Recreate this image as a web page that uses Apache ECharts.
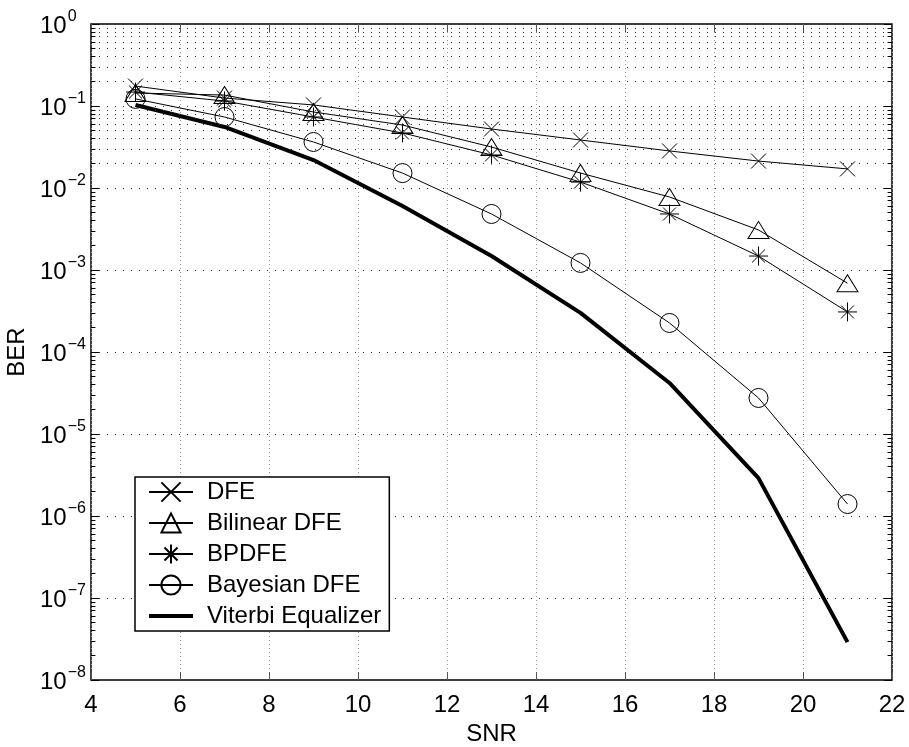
<html>
  <head>
    <meta charset="utf-8" />
    <title>BER vs SNR</title>
    <script type="text/javascript" src="https://cdn.jsdelivr.net/npm/echarts@6/dist/echarts.min.js"></script>
    <style>
      body { margin: 0; background: #fff; }
    </style>
  </head>
  <body>
    <div id="main" style="width:909px;height:747px;"></div>
    <script type="text/javascript">
      var snr = [5, 7, 9, 11, 13, 15, 17, 19, 21];
      var dfe = [0.175, 0.125, 0.103, 0.0734, 0.0524, 0.0385, 0.0283, 0.0213, 0.0171];
      var bilinear = [0.144, 0.136, 0.0845, 0.0586, 0.0316, 0.0152, 0.00777, 0.00308, 0.00069];
      var bpdfe = [0.148, 0.115, 0.0734, 0.0469, 0.0253, 0.0118, 0.00482, 0.00148, 0.000308];
      var bayesian = [0.122, 0.0734, 0.0364, 0.0152, 0.00482, 0.00122, 0.000226, 0.0000275, 0.0000014];
      var viterbi = [0.103, 0.0555, 0.0219, 0.00603, 0.00148, 0.0003, 0.0000419, 0.0000029, 0.000000029];
      var seriesNames = ['DFE', 'Bilinear DFE', 'BPDFE', 'Bayesian DFE', 'Viterbi Equalizer'];

      // minor grid values 2..9 x 10^k
      var minorVals = [];
      for (var k = -8; k < 0; k++) {
        for (var m = 2; m <= 9; m++) {
          minorVals.push(m * Math.pow(10, k));
        }
      }

      function pairs(ys) {
        return snr.map(function (x, i) { return [x, ys[i]]; });
      }

      var xMark = 'path://M0,0L10,10M10,0L0,10';
      var starMark = 'path://M5,0L5,10M0,5L10,5M1.6,1.6L8.4,8.4M8.4,1.6L1.6,8.4';
      var triMark = 'path://M5,0L10,9L0,9Z';

      var thin = { color: '#000', width: 1 };
      var hollow = { color: 'rgba(0,0,0,0)', borderColor: '#000', borderWidth: 1 };
      var font = 'Liberation Sans, Arial, sans-serif';

      var myChart = echarts.init(document.getElementById('main'));

      var minorGridLines = minorVals.map(function (v) { return { yAxis: v }; });
      var minorTicks = [];
      minorVals.forEach(function (v) {
        minorTicks.push([{ coord: [4, v], lineStyle: { color: '#000', type: 'solid', width: 1 } }, { coord: [4.1, v] }]);
        minorTicks.push([{ coord: [21.9, v], lineStyle: { color: '#000', type: 'solid', width: 1 } }, { coord: [22, v] }]);
      });

      var labelFmt = function (v) {
        var e = Math.round(Math.log10(v));
        return '{a|10}{b|' + (e === 0 ? '0' : '\u2212' + (-e)) + '}';
      };

      var legendData = seriesNames.map(function (n) {
        if (n === 'Viterbi Equalizer') {
          return { name: n, itemStyle: { opacity: 0 }, lineStyle: { width: 4, color: '#000', opacity: 1 } };
        }
        return { name: n };
      });

      var option = {
        animation: false,
        textStyle: { fontFamily: font },
        grid: {
          left: 91, right: 17, top: 24, bottom: 67,
          containLabel: false,
          outerBoundsMode: 'none',
          show: true, borderColor: '#000', borderWidth: 1.5
        },
        legend: {
          data: legendData,
          orient: 'vertical',
          left: 135,
          top: 477,
          backgroundColor: '#fff',
          borderColor: '#000',
          borderWidth: 1.5,
          padding: [3, 8, 3, 12],
          itemWidth: 44,
          itemHeight: 24,
          itemGap: 7,
          textStyle: { fontSize: 24, color: '#000', fontFamily: font, padding: [0, 0, 0, 9] }
        },
        xAxis: [
          {
            type: 'value', min: 4, max: 22, interval: 2,
            name: 'SNR', nameLocation: 'middle', nameGap: 42,
            nameTextStyle: { fontSize: 24, color: '#000' },
            axisLine: { show: false },
            axisTick: { inside: true, length: 8, lineStyle: { color: '#555' } },
            axisLabel: { fontSize: 24, color: '#000', margin: 13 },
            splitLine: { show: true, lineStyle: { color: '#999', type: [1, 3] } }
          },
          {
            type: 'value', min: 4, max: 22, interval: 2, position: 'top',
            axisLine: { show: false },
            axisTick: { show: true, inside: true, length: 8, lineStyle: { color: '#555' } },
            axisLabel: { show: false },
            splitLine: { show: false }
          }
        ],
        yAxis: [
          {
            type: 'log', logBase: 10, min: 1e-8, max: 1, splitNumber: 8,
            name: 'BER', nameLocation: 'middle', nameGap: 47, nameRotate: 90,
            nameTextStyle: { fontSize: 24, color: '#000' },
            axisLine: { show: false },
            axisTick: { inside: true, length: 8, lineStyle: { color: '#000' } },
            axisLabel: {
              margin: 51,
              align: 'left',
              formatter: labelFmt,
              rich: {
                a: { fontSize: 24, color: '#000', padding: [4, 0, 0, 0] },
                b: { fontSize: 16, color: '#000', padding: [0, 0, 14, 1] }
              }
            },
            splitLine: { show: true, lineStyle: { color: '#333', type: [1, 7] } }
          },
          {
            type: 'log', logBase: 10, min: 1e-8, max: 1, splitNumber: 8, position: 'right',
            axisLine: { show: false },
            axisTick: { inside: true, length: 8, lineStyle: { color: '#000' } },
            axisLabel: { show: false },
            splitLine: { show: false }
          }
        ],
        series: [
          {
            name: 'grid',
            type: 'line',
            data: [],
            silent: true,
            markLine: {
              silent: true,
              symbol: 'none',
              label: { show: false },
              animation: false,
              lineStyle: { color: '#333', type: [1, 7], width: 1 },
              data: minorGridLines.concat(minorTicks)
            }
          },
          {
            name: 'DFE', type: 'line', data: pairs(dfe),
            symbol: xMark, symbolSize: 15, symbolKeepAspect: true,
            lineStyle: thin, itemStyle: hollow, z: 3
          },
          {
            name: 'Bilinear DFE', type: 'line', data: pairs(bilinear),
            symbol: triMark, symbolSize: [21, 19], symbolKeepAspect: true,
            lineStyle: thin, itemStyle: hollow, z: 3
          },
          {
            name: 'BPDFE', type: 'line', data: pairs(bpdfe),
            symbol: starMark, symbolSize: 19, symbolKeepAspect: true,
            lineStyle: thin, itemStyle: hollow, z: 3
          },
          {
            name: 'Bayesian DFE', type: 'line', data: pairs(bayesian),
            symbol: 'circle', symbolSize: 19,
            lineStyle: thin, itemStyle: hollow, z: 3
          },
          {
            name: 'Viterbi Equalizer', type: 'line', data: pairs(viterbi),
            symbol: 'none',
            lineStyle: { color: '#000', width: 4 }, itemStyle: { color: '#000' }, z: 3
          }
        ]
      };
      myChart.setOption(option);
    </script>
  </body>
</html>
